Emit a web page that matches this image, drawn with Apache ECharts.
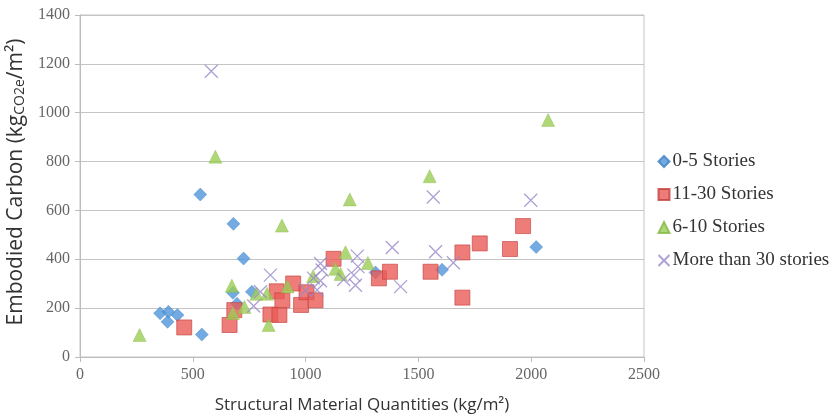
<!DOCTYPE html>
<html><head><meta charset="utf-8">
<script src="https://cdn.jsdelivr.net/npm/echarts@6/dist/echarts.min.js"></script>
<style>html,body{margin:0;padding:0;background:#fff}#c{width:835px;height:416px}</style>
</head><body><div id="c"></div>
<script>
const seriesNames = ['0-5 Stories', '11-30 Stories', '6-10 Stories', 'More than 30 stories'];
const stories0to5 = [[355,179],[392,185],[432,172],[388,144],[540,92],[533,665],[680,545],[725,403],[762,267],[678,263],[696,218],[1310,346],[1605,357],[2022,450]];
const stories11to30 = [[462,121],[663,131],[684,192],[844,174],[884,172],[872,269],[897,232],[945,301],[980,213],[1004,265],[1044,232],[1124,402],[1325,322],[1374,349],[1554,349],[1695,428],[1772,465],[1906,442],[1964,536],[1695,243]];
const stories6to10 = [[264,90],[600,820],[673,292],[678,180],[729,205],[782,259],[829,259],[836,131],[895,538],[920,289],[1033,331],[1132,361],[1155,340],[1177,429],[1196,645],[1276,385],[1550,740],[2075,970]];
const storiesOver30 = [[582,1170],[770,209],[800,267],[844,335],[1000,272],[1035,323],[1051,274],[1066,383],[1066,312],[1073,356],[1169,317],[1214,335],[1221,294],[1229,413],[1232,370],[1384,448],[1421,288],[1566,655],[1576,431],[1655,386],[1998,642]];

const serif = 'Liberation Serif';
const sans = 'Open Sans';
const chart = echarts.init(document.getElementById('c'));
chart.setOption({
  animation: false,
  grid: {left: 80, right: 191, top: 15, bottom: 59, show: true, borderColor: '#c4c4c4', borderWidth: 1,
         containLabel: false, outerBoundsMode: 'none'},
  legend: {
    orient: 'vertical', left: 651, top: 147, itemGap: 14, itemWidth: 11, itemHeight: 11,
    textStyle: {fontFamily: serif, fontSize: 19, color: '#333', padding: [0,0,0,-2]},
    data: seriesNames
  },
  xAxis: {
    type: 'value', min: 0, max: 2500, interval: 500,
    name: 'Structural Material Quantities (kg/m²)', nameLocation: 'middle', nameGap: 40,
    nameTextStyle: {fontFamily: sans, fontSize: 17, color: '#333'},
    axisLine: {lineStyle: {color: '#bcbcbc'}},
    axisTick: {show: true, inside: false, length: 5, lineStyle: {color: '#bcbcbc'}},
    axisLabel: {fontFamily: serif, fontSize: 16, color: '#666', margin: 10, formatter: v => String(v)},
    splitLine: {show: false}
  },
  yAxis: {
    type: 'value', min: 0, max: 1400, interval: 200,
    name: '{a|Embodied Carbon (kg}{s|CO2e}{a|/m²)}', nameLocation: 'middle', nameGap: 44,
    nameTextStyle: {padding: [0,0,0,8], rich: {
      a: {fontFamily: sans, fontSize: 21, color: '#333'},
      s: {fontFamily: sans, fontSize: 14, color: '#333', verticalAlign: 'bottom', padding: [9,0,0,0]}
    }},
    axisLine: {show: true, lineStyle: {color: '#bcbcbc'}},
    axisTick: {show: true, length: 5, lineStyle: {color: '#bcbcbc'}},
    axisLabel: {fontFamily: serif, fontSize: 16, color: '#666', margin: 10, formatter: v => String(v)},
    splitLine: {lineStyle: {color: '#c4c4c4'}}
  },
  series: [
    {name: seriesNames[0], type: 'scatter', data: stories0to5, symbol: 'diamond', symbolSize: 13,
     itemStyle: {color: '#4f95da', borderColor: '#3d7fc4', borderWidth: 0.5}},
    {name: seriesNames[1], type: 'scatter', data: stories11to30, symbol: 'rect', symbolSize: 15,
     itemStyle: {color: '#ea5b58', borderColor: '#c2403d', borderWidth: 0.8}},
    {name: seriesNames[2], type: 'scatter', data: stories6to10, symbol: 'triangle', symbolSize: 13,
     itemStyle: {color: '#9ccd55', borderColor: '#86b844', borderWidth: 0.5}},
    {name: seriesNames[3], type: 'scatter', data: storiesOver30, symbol: 'path://M0,0L10,10M10,0L0,10', symbolSize: 13,
     itemStyle: {color: 'none', borderColor: '#9888c8', borderWidth: 1.3}}
  ]
});
</script></body></html>
